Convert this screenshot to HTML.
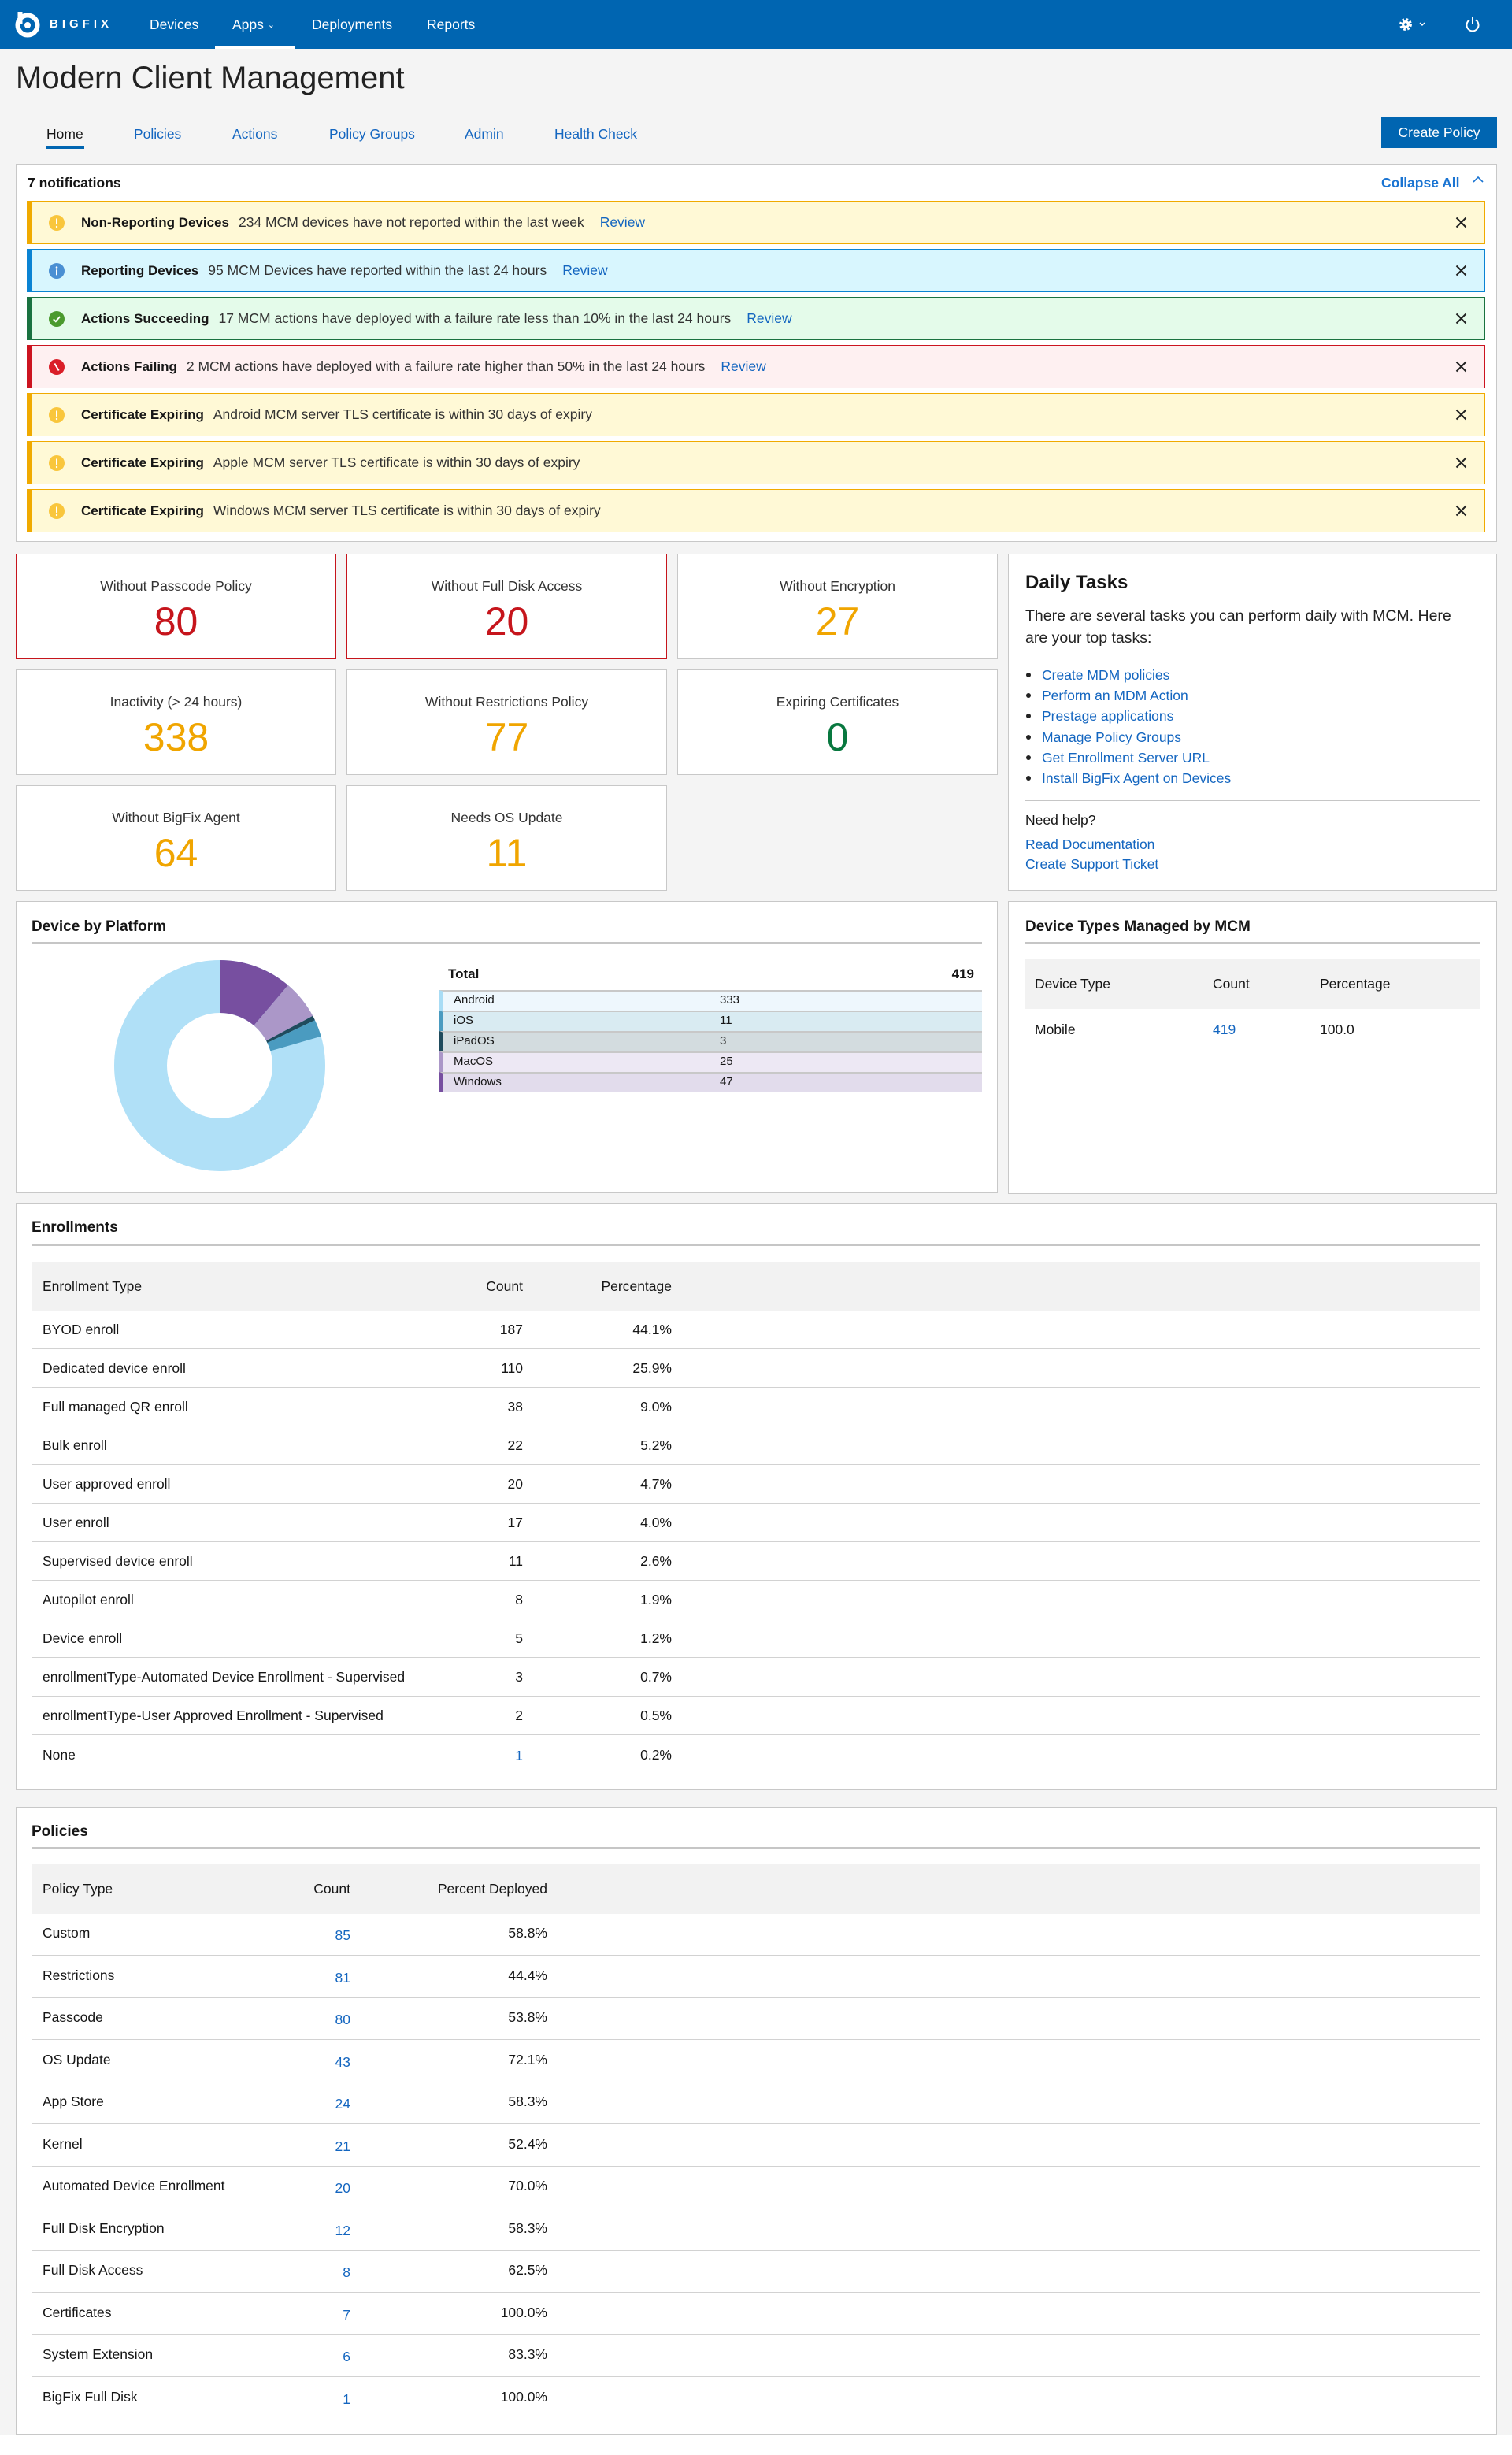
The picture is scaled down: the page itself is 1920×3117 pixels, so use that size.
<!DOCTYPE html>
<html><head><meta charset="utf-8"><title>Modern Client Management</title>
<style>
*{box-sizing:border-box;margin:0;padding:0}
html,body{width:1920px;height:3117px}
body{background:#fff;font-family:"Liberation Sans",Arial,sans-serif;color:#161616;position:relative;overflow:hidden}
.a{position:absolute;white-space:nowrap}
.t{position:absolute;white-space:nowrap;line-height:20px;height:20px;font-size:17.5px}
.box{position:absolute;background:#fff;border:1px solid #c8c8c8}
.lnk{color:#1466c0}
.nav{position:absolute;top:21px;line-height:20px;color:#fff;font-size:17.5px;white-space:nowrap}
.tab{position:absolute;top:160px;line-height:20px;font-size:17.5px;color:#1466c0;white-space:nowrap}
.alert{position:absolute;left:34px;width:1852px;height:55px;border:1px solid;border-left-width:6px;display:flex;align-items:center;font-size:17.5px;white-space:nowrap}
.alert svg.ic{margin-left:22px;flex:none}
.alert .ti{font-weight:bold;font-size:17px;margin-left:21px;color:#161616}
.alert .ds{margin-left:12px;color:#333}
.alert .rv{margin-left:20px;color:#1466c0}
.alert .x{position:absolute;right:22px;top:19px}
.y{background:#fff9d6;border-color:#f0aa00}
.b{background:#d8f6fe;border-color:#0a83d3}
.g{background:#e4fbea;border-color:#1a7240}
.r{background:#fef0f1;border-color:#cc1420}
.card{position:absolute;width:407px;height:134px;background:#fff;border:1px solid #c8c8c8}
.card .l{position:absolute;left:0;width:100%;top:30px;text-align:center;line-height:20px;font-size:17.5px;color:#333}
.card .n{position:absolute;left:0;width:100%;top:60px;text-align:center;line-height:50px;font-size:50px}
.red{color:#c6151c}.org{color:#f0a500}.grn{color:#08783f}
.ptitle{position:absolute;white-space:nowrap;font-weight:bold;font-size:19px;line-height:20px;color:#161616}
.uline{position:absolute;height:2px;background:#c6c6c6}
.hbg{position:absolute;background:#f2f2f2}
.sep{position:absolute;left:40px;width:1840px;height:1px;background:#d2d2d2}
.rt{text-align:right}
.lg{position:absolute;left:558px;width:689px;height:26px;border-top:2px solid #c8c8c8;border-left:5px solid;font-size:15px;line-height:22px}
.lg span{position:absolute;top:0}
</style></head>
<body>
<div class="a" style="left:0;top:0;width:1920px;height:3092px;background:#f4f4f4"></div>

<!-- header -->
<div class="a" style="left:0;top:0;width:1920px;height:62px;background:#0065b1"></div>
<svg class="a" style="left:17px;top:13px" width="36" height="36" viewBox="0 0 36 36">
<circle cx="18" cy="19" r="12.5" fill="none" stroke="#fff" stroke-width="6"/>
<rect x="5.5" y="2" width="6" height="16" fill="#fff"/>
<circle cx="18" cy="19" r="4" fill="#fff"/>
</svg>
<div class="a" style="left:63px;top:21px;line-height:20px;font-size:15px;font-weight:bold;color:#fff;letter-spacing:5px">BIGFIX</div>
<div class="nav" style="left:190px">Devices</div>
<div class="nav" style="left:295px">Apps <span style="font-size:11px;position:relative;top:-2px">&#8964;</span></div>
<div class="a" style="left:273px;top:58px;width:101px;height:4px;background:#fff"></div>
<div class="nav" style="left:396px">Deployments</div>
<div class="nav" style="left:542px">Reports</div>
<svg class="a" style="left:1776px;top:22px" width="40" height="18" viewBox="0 0 40 18">
<circle cx="9" cy="9" r="6.2" fill="none" stroke="#fff" stroke-width="3.5" stroke-dasharray="2.6 2.3"/>
<circle cx="9" cy="9" r="5" fill="#fff"/>
<circle cx="9" cy="9" r="1.8" fill="#0065b1"/>
<polyline points="27,7 30,10 33,7" fill="none" stroke="#fff" stroke-width="1.4"/>
</svg>
<svg class="a" style="left:1860px;top:19px" width="20" height="22" viewBox="0 0 20 22">
<path d="M6 6.5 A7.5 7.5 0 1 0 14 6.5" fill="none" stroke="#fff" stroke-width="2"/>
<line x1="10" y1="2" x2="10" y2="11" stroke="#fff" stroke-width="2"/>
</svg>

<!-- title & tabs -->
<div class="a" style="left:20px;top:79px;font-size:40px;line-height:40px;color:#222">Modern Client Management</div>
<div class="tab" style="left:59px;color:#161616">Home</div>
<div class="a" style="left:59px;top:186px;width:48px;height:3px;background:#0065b1"></div>
<div class="tab" style="left:170px">Policies</div>
<div class="tab" style="left:295px">Actions</div>
<div class="tab" style="left:418px">Policy Groups</div>
<div class="tab" style="left:590px">Admin</div>
<div class="tab" style="left:704px">Health Check</div>
<div class="a" style="left:1754px;top:148px;width:147px;height:40px;background:#0065b1;color:#fff;font-size:17.5px;line-height:40px;text-align:center">Create Policy</div>

<!-- notifications -->
<div class="box" style="left:20px;top:208px;width:1881px;height:480px"></div>
<div class="t" style="left:35px;top:222px;font-weight:bold">7 notifications</div>
<div class="t" style="left:1754px;top:222px;font-weight:bold;color:#1a74d2">Collapse All</div>
<svg class="a" style="left:1869px;top:222px" width="16" height="12" viewBox="0 0 16 12"><polyline points="2,9 8,3 14,9" fill="none" stroke="#1a74d2" stroke-width="1.6"/></svg>

<div class="alert y" style="top:255px">
<svg class="ic" width="20" height="20" viewBox="0 0 20 20"><circle cx="10" cy="10" r="10" fill="#f9c63c"/><rect x="9" y="4.3" width="2" height="8" rx="1" fill="#fff"/><circle cx="10" cy="15" r="1.2" fill="#fff"/></svg>
<span class="ti">Non-Reporting Devices</span><span class="ds">234 MCM devices have not reported within the last week</span><span class="rv">Review</span>
<svg class="x" width="15" height="15" viewBox="0 0 15 15"><path d="M1.5 1.5L13.5 13.5M13.5 1.5L1.5 13.5" stroke="#222" stroke-width="2"/></svg></div>

<div class="alert b" style="top:316px">
<svg class="ic" width="20" height="20" viewBox="0 0 20 20"><circle cx="10" cy="10" r="10" fill="#4a8fd3"/><circle cx="10" cy="5.5" r="1.3" fill="#fff"/><rect x="9" y="8.3" width="2" height="7" fill="#fff"/></svg>
<span class="ti">Reporting Devices</span><span class="ds">95 MCM Devices have reported within the last 24 hours</span><span class="rv">Review</span>
<svg class="x" width="15" height="15" viewBox="0 0 15 15"><path d="M1.5 1.5L13.5 13.5M13.5 1.5L1.5 13.5" stroke="#222" stroke-width="2"/></svg></div>

<div class="alert g" style="top:377px">
<svg class="ic" width="20" height="20" viewBox="0 0 20 20"><circle cx="10" cy="10" r="10" fill="#4b9a2e"/><polyline points="5.8,10.3 8.8,13.2 14.2,7" fill="none" stroke="#fff" stroke-width="2"/></svg>
<span class="ti">Actions Succeeding</span><span class="ds">17 MCM actions have deployed with a failure rate less than 10% in the last 24 hours</span><span class="rv">Review</span>
<svg class="x" width="15" height="15" viewBox="0 0 15 15"><path d="M1.5 1.5L13.5 13.5M13.5 1.5L1.5 13.5" stroke="#222" stroke-width="2"/></svg></div>

<div class="alert r" style="top:438px">
<svg class="ic" width="20" height="20" viewBox="0 0 20 20"><circle cx="10" cy="10" r="10" fill="#da1e28"/><line x1="7.3" y1="5.5" x2="12.7" y2="14.5" stroke="#fff" stroke-width="2"/></svg>
<span class="ti">Actions Failing</span><span class="ds">2 MCM actions have deployed with a failure rate higher than 50% in the last 24 hours</span><span class="rv">Review</span>
<svg class="x" width="15" height="15" viewBox="0 0 15 15"><path d="M1.5 1.5L13.5 13.5M13.5 1.5L1.5 13.5" stroke="#222" stroke-width="2"/></svg></div>

<div class="alert y" style="top:499px">
<svg class="ic" width="20" height="20" viewBox="0 0 20 20"><circle cx="10" cy="10" r="10" fill="#f9c63c"/><rect x="9" y="4.3" width="2" height="8" rx="1" fill="#fff"/><circle cx="10" cy="15" r="1.2" fill="#fff"/></svg>
<span class="ti">Certificate Expiring</span><span class="ds">Android MCM server TLS certificate is within 30 days of expiry</span>
<svg class="x" width="15" height="15" viewBox="0 0 15 15"><path d="M1.5 1.5L13.5 13.5M13.5 1.5L1.5 13.5" stroke="#222" stroke-width="2"/></svg></div>

<div class="alert y" style="top:560px">
<svg class="ic" width="20" height="20" viewBox="0 0 20 20"><circle cx="10" cy="10" r="10" fill="#f9c63c"/><rect x="9" y="4.3" width="2" height="8" rx="1" fill="#fff"/><circle cx="10" cy="15" r="1.2" fill="#fff"/></svg>
<span class="ti">Certificate Expiring</span><span class="ds">Apple MCM server TLS certificate is within 30 days of expiry</span>
<svg class="x" width="15" height="15" viewBox="0 0 15 15"><path d="M1.5 1.5L13.5 13.5M13.5 1.5L1.5 13.5" stroke="#222" stroke-width="2"/></svg></div>

<div class="alert y" style="top:621px">
<svg class="ic" width="20" height="20" viewBox="0 0 20 20"><circle cx="10" cy="10" r="10" fill="#f9c63c"/><rect x="9" y="4.3" width="2" height="8" rx="1" fill="#fff"/><circle cx="10" cy="15" r="1.2" fill="#fff"/></svg>
<span class="ti">Certificate Expiring</span><span class="ds">Windows MCM server TLS certificate is within 30 days of expiry</span>
<svg class="x" width="15" height="15" viewBox="0 0 15 15"><path d="M1.5 1.5L13.5 13.5M13.5 1.5L1.5 13.5" stroke="#222" stroke-width="2"/></svg></div>

<!-- cards -->
<div class="card" style="left:20px;top:703px;border-color:#c6151c"><div class="l">Without Passcode Policy</div><div class="n red">80</div></div>
<div class="card" style="left:440px;top:703px;border-color:#c6151c"><div class="l">Without Full Disk Access</div><div class="n red">20</div></div>
<div class="card" style="left:860px;top:703px"><div class="l">Without Encryption</div><div class="n org">27</div></div>
<div class="card" style="left:20px;top:850px"><div class="l">Inactivity (&gt; 24 hours)</div><div class="n org">338</div></div>
<div class="card" style="left:440px;top:850px"><div class="l">Without Restrictions Policy</div><div class="n org">77</div></div>
<div class="card" style="left:860px;top:850px"><div class="l">Expiring Certificates</div><div class="n grn">0</div></div>
<div class="card" style="left:20px;top:997px"><div class="l">Without BigFix Agent</div><div class="n org">64</div></div>
<div class="card" style="left:440px;top:997px"><div class="l">Needs OS Update</div><div class="n org">11</div></div>

<!-- daily tasks -->
<div class="box" style="left:1280px;top:703px;width:621px;height:428px"></div>
<div class="a" style="left:1302px;top:728px;font-size:24px;line-height:24px;font-weight:bold">Daily Tasks</div>
<div class="a" style="left:1302px;top:768px;font-size:19.5px;line-height:28px;color:#222">There are several tasks you can perform daily with MCM. Here<br>are your top tasks:</div>
<div class="a" style="left:1302px;top:844px;font-size:17.5px;line-height:26.2px">
<div><span style="display:inline-block;width:6px;height:6px;border-radius:3px;background:#222;margin:0 14px 3px 1px"></span><span class="lnk">Create MDM policies</span></div>
<div><span style="display:inline-block;width:6px;height:6px;border-radius:3px;background:#222;margin:0 14px 3px 1px"></span><span class="lnk">Perform an MDM Action</span></div>
<div><span style="display:inline-block;width:6px;height:6px;border-radius:3px;background:#222;margin:0 14px 3px 1px"></span><span class="lnk">Prestage applications</span></div>
<div><span style="display:inline-block;width:6px;height:6px;border-radius:3px;background:#222;margin:0 14px 3px 1px"></span><span class="lnk">Manage Policy Groups</span></div>
<div><span style="display:inline-block;width:6px;height:6px;border-radius:3px;background:#222;margin:0 14px 3px 1px"></span><span class="lnk">Get Enrollment Server URL</span></div>
<div><span style="display:inline-block;width:6px;height:6px;border-radius:3px;background:#222;margin:0 14px 3px 1px"></span><span class="lnk">Install BigFix Agent on Devices</span></div>
</div>
<div class="a" style="left:1302px;top:1016px;width:578px;height:1px;background:#c6c6c6"></div>
<div class="t" style="left:1302px;top:1031px">Need help?</div>
<div class="t lnk" style="left:1302px;top:1062px">Read Documentation</div>
<div class="t lnk" style="left:1302px;top:1087px">Create Support Ticket</div>

<!-- device by platform -->
<div class="box" style="left:20px;top:1144px;width:1247px;height:371px"></div>
<div class="ptitle" style="left:40px;top:1167px">Device by Platform</div>
<div class="uline" style="left:40px;top:1196px;width:1207px"></div>
<svg class="a" style="left:145px;top:1219px" width="268" height="268" viewBox="0 0 268 268">
<circle cx="134" cy="134" r="100.5" fill="none" stroke="#b0e0f7" stroke-width="67"/>
<path d="M134,0 A134,134 0 0 1 220.8,31.9 L177.4,83.0 A67,67 0 0 0 134,67 Z" fill="#774fa0"/>
<path d="M220.8,31.9 A134,134 0 0 1 252.2,70.8 L193.1,102.4 A67,67 0 0 0 177.4,83.0 Z" fill="#ab97c8"/>
<path d="M252.2,70.8 A134,134 0 0 1 254.9,76.2 L194.4,105.1 A67,67 0 0 0 193.1,102.4 Z" fill="#1f4b5d"/>
<path d="M254.9,76.2 A134,134 0 0 1 262.7,96.8 L198.4,115.4 A67,67 0 0 0 194.4,105.1 Z" fill="#4a9bc0"/>
</svg>
<div class="t" style="left:569px;top:1227px;font-weight:bold;font-size:17px">Total</div>
<div class="t rt" style="left:1137px;width:100px;top:1227px;font-weight:bold;font-size:17px">419</div>
<div class="lg" style="top:1257px;border-left-color:#a8dcf5;background:#eef7fd"><span style="left:13px">Android</span><span style="left:351px">333</span></div>
<div class="lg" style="top:1283px;border-left-color:#4a9bc0;background:#d9ebf2"><span style="left:13px">iOS</span><span style="left:351px">11</span></div>
<div class="lg" style="top:1309px;border-left-color:#1f4b5d;background:#d3dcdf"><span style="left:13px">iPadOS</span><span style="left:351px">3</span></div>
<div class="lg" style="top:1335px;border-left-color:#ab97c8;background:#ede8f4"><span style="left:13px">MacOS</span><span style="left:351px">25</span></div>
<div class="lg" style="top:1361px;border-left-color:#774fa0;background:#e2dcec"><span style="left:13px">Windows</span><span style="left:351px">47</span></div>

<!-- device types -->
<div class="box" style="left:1280px;top:1144px;width:621px;height:372px"></div>
<div class="ptitle" style="left:1302px;top:1167px">Device Types Managed by MCM</div>
<div class="uline" style="left:1302px;top:1196px;width:578px"></div>
<div class="hbg" style="left:1302px;top:1218px;width:578px;height:63px"></div>
<div class="t" style="left:1314px;top:1239px">Device Type</div>
<div class="t" style="left:1540px;top:1239px">Count</div>
<div class="t" style="left:1676px;top:1239px">Percentage</div>
<div class="t" style="left:1314px;top:1297px">Mobile</div>
<div class="t lnk" style="left:1540px;top:1297px">419</div>
<div class="t" style="left:1676px;top:1297px">100.0</div>

<!-- enrollments -->
<div class="box" style="left:20px;top:1528px;width:1881px;height:745px"></div>
<div class="ptitle" style="left:40px;top:1549px">Enrollments</div>
<div class="uline" style="left:40px;top:1580px;width:1840px"></div>
<div class="hbg" style="left:40px;top:1602px;width:1840px;height:62px"></div>
<div class="t" style="left:54px;top:1623px">Enrollment Type</div>
<div class="t rt" style="left:564px;width:100px;top:1623px">Count</div>
<div class="t rt" style="left:733px;width:120px;top:1623px">Percentage</div>

<div class="sep" style="top:1712px"></div><div class="sep" style="top:1761px"></div><div class="sep" style="top:1810px"></div><div class="sep" style="top:1859px"></div><div class="sep" style="top:1908px"></div><div class="sep" style="top:1957px"></div><div class="sep" style="top:2006px"></div><div class="sep" style="top:2055px"></div><div class="sep" style="top:2104px"></div><div class="sep" style="top:2153px"></div><div class="sep" style="top:2202px"></div>

<div class="t" style="left:54px;top:1678px">BYOD enroll</div><div class="t rt" style="left:564px;width:100px;top:1678px">187</div><div class="t rt" style="left:733px;width:120px;top:1678px">44.1%</div>
<div class="t" style="left:54px;top:1727px">Dedicated device enroll</div><div class="t rt" style="left:564px;width:100px;top:1727px">110</div><div class="t rt" style="left:733px;width:120px;top:1727px">25.9%</div>
<div class="t" style="left:54px;top:1776px">Full managed QR enroll</div><div class="t rt" style="left:564px;width:100px;top:1776px">38</div><div class="t rt" style="left:733px;width:120px;top:1776px">9.0%</div>
<div class="t" style="left:54px;top:1825px">Bulk enroll</div><div class="t rt" style="left:564px;width:100px;top:1825px">22</div><div class="t rt" style="left:733px;width:120px;top:1825px">5.2%</div>
<div class="t" style="left:54px;top:1874px">User approved enroll</div><div class="t rt" style="left:564px;width:100px;top:1874px">20</div><div class="t rt" style="left:733px;width:120px;top:1874px">4.7%</div>
<div class="t" style="left:54px;top:1923px">User enroll</div><div class="t rt" style="left:564px;width:100px;top:1923px">17</div><div class="t rt" style="left:733px;width:120px;top:1923px">4.0%</div>
<div class="t" style="left:54px;top:1972px">Supervised device enroll</div><div class="t rt" style="left:564px;width:100px;top:1972px">11</div><div class="t rt" style="left:733px;width:120px;top:1972px">2.6%</div>
<div class="t" style="left:54px;top:2021px">Autopilot enroll</div><div class="t rt" style="left:564px;width:100px;top:2021px">8</div><div class="t rt" style="left:733px;width:120px;top:2021px">1.9%</div>
<div class="t" style="left:54px;top:2070px">Device enroll</div><div class="t rt" style="left:564px;width:100px;top:2070px">5</div><div class="t rt" style="left:733px;width:120px;top:2070px">1.2%</div>
<div class="t" style="left:54px;top:2119px">enrollmentType-Automated Device Enrollment - Supervised</div><div class="t rt" style="left:564px;width:100px;top:2119px">3</div><div class="t rt" style="left:733px;width:120px;top:2119px">0.7%</div>
<div class="t" style="left:54px;top:2168px">enrollmentType-User Approved Enrollment - Supervised</div><div class="t rt" style="left:564px;width:100px;top:2168px">2</div><div class="t rt" style="left:733px;width:120px;top:2168px">0.5%</div>
<div class="t" style="left:54px;top:2218px">None</div><div class="t rt lnk" style="left:564px;width:100px;top:2219px">1</div><div class="t rt" style="left:733px;width:120px;top:2218px">0.2%</div>

<!-- policies -->
<div class="box" style="left:20px;top:2294px;width:1881px;height:797px"></div>
<div class="ptitle" style="left:40px;top:2316px">Policies</div>
<div class="uline" style="left:40px;top:2345px;width:1840px"></div>
<div class="hbg" style="left:40px;top:2367px;width:1840px;height:63px"></div>
<div class="t" style="left:54px;top:2388px">Policy Type</div>
<div class="t rt" style="left:345px;width:100px;top:2388px">Count</div>
<div class="t rt" style="left:515px;width:180px;top:2388px">Percent Deployed</div>

<div class="sep" style="top:2482px"></div><div class="sep" style="top:2535.5px"></div><div class="sep" style="top:2589px"></div><div class="sep" style="top:2642.5px"></div><div class="sep" style="top:2696px"></div><div class="sep" style="top:2749.5px"></div><div class="sep" style="top:2803px"></div><div class="sep" style="top:2856.5px"></div><div class="sep" style="top:2910px"></div><div class="sep" style="top:2963.5px"></div><div class="sep" style="top:3017px"></div>

<div class="t" style="left:54px;top:2444px">Custom</div><div class="t rt lnk" style="left:345px;width:100px;top:2447px">85</div><div class="t rt" style="left:515px;width:180px;top:2444px">58.8%</div>
<div class="t" style="left:54px;top:2497.5px">Restrictions</div><div class="t rt lnk" style="left:345px;width:100px;top:2500.5px">81</div><div class="t rt" style="left:515px;width:180px;top:2497.5px">44.4%</div>
<div class="t" style="left:54px;top:2551px">Passcode</div><div class="t rt lnk" style="left:345px;width:100px;top:2554px">80</div><div class="t rt" style="left:515px;width:180px;top:2551px">53.8%</div>
<div class="t" style="left:54px;top:2604.5px">OS Update</div><div class="t rt lnk" style="left:345px;width:100px;top:2607.5px">43</div><div class="t rt" style="left:515px;width:180px;top:2604.5px">72.1%</div>
<div class="t" style="left:54px;top:2658px">App Store</div><div class="t rt lnk" style="left:345px;width:100px;top:2661px">24</div><div class="t rt" style="left:515px;width:180px;top:2658px">58.3%</div>
<div class="t" style="left:54px;top:2711.5px">Kernel</div><div class="t rt lnk" style="left:345px;width:100px;top:2714.5px">21</div><div class="t rt" style="left:515px;width:180px;top:2711.5px">52.4%</div>
<div class="t" style="left:54px;top:2765px">Automated Device Enrollment</div><div class="t rt lnk" style="left:345px;width:100px;top:2768px">20</div><div class="t rt" style="left:515px;width:180px;top:2765px">70.0%</div>
<div class="t" style="left:54px;top:2818.5px">Full Disk Encryption</div><div class="t rt lnk" style="left:345px;width:100px;top:2821.5px">12</div><div class="t rt" style="left:515px;width:180px;top:2818.5px">58.3%</div>
<div class="t" style="left:54px;top:2872px">Full Disk Access</div><div class="t rt lnk" style="left:345px;width:100px;top:2875px">8</div><div class="t rt" style="left:515px;width:180px;top:2872px">62.5%</div>
<div class="t" style="left:54px;top:2925.5px">Certificates</div><div class="t rt lnk" style="left:345px;width:100px;top:2928.5px">7</div><div class="t rt" style="left:515px;width:180px;top:2925.5px">100.0%</div>
<div class="t" style="left:54px;top:2979px">System Extension</div><div class="t rt lnk" style="left:345px;width:100px;top:2982px">6</div><div class="t rt" style="left:515px;width:180px;top:2979px">83.3%</div>
<div class="t" style="left:54px;top:3032.5px">BigFix Full Disk</div><div class="t rt lnk" style="left:345px;width:100px;top:3035.5px">1</div><div class="t rt" style="left:515px;width:180px;top:3032.5px">100.0%</div>

</body></html>
